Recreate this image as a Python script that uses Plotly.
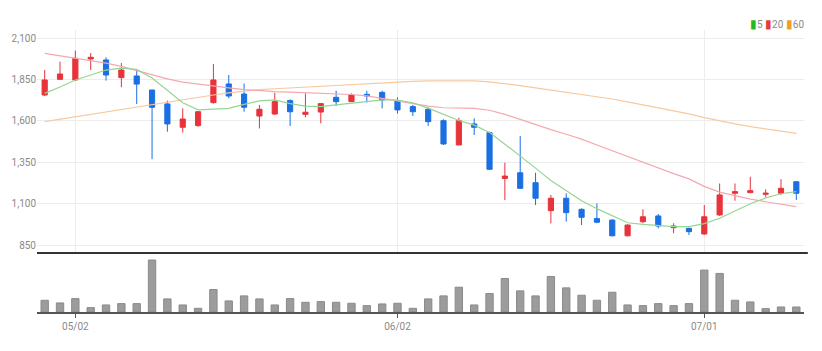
import plotly.graph_objects as go

dates = ["2022-04-28","2022-04-29","2022-05-02","2022-05-03","2022-05-04","2022-05-06","2022-05-09","2022-05-10",
         "2022-05-11","2022-05-12","2022-05-13","2022-05-16","2022-05-17","2022-05-18","2022-05-19","2022-05-20",
         "2022-05-23","2022-05-24","2022-05-25","2022-05-26","2022-05-27","2022-05-30","2022-05-31","2022-06-02",
         "2022-06-03","2022-06-07","2022-06-08","2022-06-09","2022-06-10","2022-06-13","2022-06-14","2022-06-15",
         "2022-06-16","2022-06-17","2022-06-20","2022-06-21","2022-06-22","2022-06-23","2022-06-24","2022-06-27",
         "2022-06-28","2022-06-29","2022-06-30","2022-07-01","2022-07-04","2022-07-05","2022-07-06","2022-07-07",
         "2022-07-08","2022-07-11"]

opens  = [1757,1852,1848,1975,1969,1862,1872,1787,1703,1562,1572,1711,1824,1763,1630,1642,1723,1640,1654,1743,
          1717,1761,1773,1723,1687,1671,1602,1455,1582,1529,1253,1287,1227,1058,1133,1066,1010,1001,906,991,
          1026,955,951,917,1032,1163,1167,1157,1163,1233]
highs  = [1908,1959,2025,2011,1985,1950,1912,1790,1723,1676,1660,1945,1878,1827,1697,1771,1731,1767,1708,1783,
          1767,1783,1783,1743,1697,1683,1610,1620,1616,1535,1348,1509,1287,1153,1163,1072,1102,1005,975,1066,
          1038,982,955,1092,1222,1222,1263,1187,1248,1235]
lows   = [1750,1850,1845,1908,1844,1804,1703,1369,1535,1530,1565,1705,1737,1656,1555,1636,1570,1622,1586,1691,
          1715,1711,1676,1645,1630,1570,1455,1455,1515,1304,1122,1190,1092,981,991,971,982,903,903,982,
          951,921,911,911,1026,1118,1163,1142,1153,1122]
closes = [1848,1884,1979,1985,1878,1908,1823,1683,1582,1612,1656,1848,1751,1683,1671,1717,1656,1653,1705,1717,
          1757,1751,1727,1667,1656,1596,1461,1602,1562,1308,1267,1193,1133,1133,1046,1018,988,906,971,1021,
          965,965,931,1021,1153,1173,1179,1163,1193,1163]

ma5  = [1767,1805,1848,1880,1908,1920,1912,1860,1785,1710,1667,1670,1676,1700,1722,1728,1705,1690,1687,1697,
        1708,1718,1728,1727,1710,1678,1640,1603,1575,1530,1460,1390,1315,1240,1180,1118,1070,1025,985,975,
        968,962,962,980,1012,1058,1100,1135,1160,1173]
ma20 = [2009,1995,1980,1965,1950,1930,1905,1880,1855,1835,1822,1812,1800,1790,1783,1778,1775,1772,1768,1765,
        1760,1752,1738,1722,1705,1690,1680,1676,1676,1665,1640,1610,1578,1548,1520,1490,1455,1420,1385,1350,
        1315,1282,1250,1205,1170,1148,1128,1112,1095,1082]
ma60 = [1596,1611,1626,1640,1654,1668,1683,1698,1714,1730,1745,1757,1770,1782,1790,1795,1800,1805,1810,1815,
        1822,1828,1833,1837,1840,1842,1843,1843,1842,1836,1826,1814,1800,1787,1774,1762,1748,1733,1716,1698,
        1680,1662,1643,1620,1600,1583,1566,1552,1538,1525]

volumes = [35,27,40,13,21,25,25,155,39,21,11,67,33,48,39,21,40,29,31,29,26,19,24,26,11,39,48,74,21,55,
           100,63,48,106,72,50,35,59,21,19,25,19,25,125,115,35,30,10,15,15]
volumes = [v * 1000 for v in volumes]

tick_dates = ["2022-05-02", "2022-06-02", "2022-07-01"]
tick_text = ["05/02", "06/02", "07/01"]
price_ticks = [850, 1100, 1350, 1600, 1850, 2100]
legend_labels = ["5", "20", "60"]
legend_colors = ["#22b822", "#e83a3a", "#f39c2c"]

UP = "#e8333a"
DOWN = "#1a6fe3"
C5, C20, C60 = "#94d694", "#f5a8b0", "#f8c99e"

fig = go.Figure()

fig.add_trace(go.Scatter(x=dates, y=ma60, mode="lines", line=dict(color=C60, width=1.2),
                         xaxis="x", yaxis="y", showlegend=False, hoverinfo="skip"))
fig.add_trace(go.Scatter(x=dates, y=ma20, mode="lines", line=dict(color=C20, width=1.2),
                         xaxis="x", yaxis="y", showlegend=False, hoverinfo="skip"))
fig.add_trace(go.Scatter(x=dates, y=ma5, mode="lines", line=dict(color=C5, width=1.2),
                         xaxis="x", yaxis="y", showlegend=False, hoverinfo="skip"))

fig.add_trace(go.Candlestick(
    x=dates, open=opens, high=highs, low=lows, close=closes,
    increasing=dict(line=dict(color=UP, width=1), fillcolor=UP),
    decreasing=dict(line=dict(color=DOWN, width=1), fillcolor=DOWN),
    xaxis="x", yaxis="y", showlegend=False, whiskerwidth=0))

fig.add_trace(go.Bar(x=dates, y=volumes, marker=dict(color="#9c9c9c", line=dict(color="#8a8a8a", width=1)),
                     xaxis="x2", yaxis="y2", showlegend=False))

price_bottom = 59 / 282
vol_top = 56 / 282

legend_text = "".join(
    f"<span style='color:{c};font-size:12px'>▮</span>{t}" + ("&nbsp;" if i < len(legend_labels) - 1 else "")
    for i, (t, c) in enumerate(zip(legend_labels, legend_colors)))

fig.update_layout(
    width=822, height=351,
    margin=dict(l=37, r=18, t=30, b=39),
    plot_bgcolor="white", paper_bgcolor="white",
    font=dict(family="Roboto, sans-serif", size=10, color="#8a8a8a"),
    boxgap=0.52,
    bargap=0.52,
    showlegend=False,
    xaxis=dict(type="category", domain=[0, 1], anchor="y", range=[-0.5, 49.5],
               tickvals=tick_dates, ticktext=tick_text, showticklabels=False,
               showgrid=True, gridcolor="#ececec", gridwidth=1, zeroline=False,
               rangeslider=dict(visible=False), ticks=""),
    yaxis=dict(domain=[price_bottom, 1], range=[802, 2150], tickvals=price_ticks,
               tickformat=",d", showgrid=True, gridcolor="#ececec", zeroline=False,
               ticks="", tickfont=dict(size=10, color="#8a8a8a")),
    xaxis2=dict(type="category", domain=[0, 1], anchor="y2", matches="x", range=[-0.5, 49.5],
                tickvals=tick_dates, ticktext=tick_text, showgrid=False,
                showline=True, linecolor="#555555", linewidth=1.5,
                ticks="outside", ticklen=4, tickcolor="#555555",
                tickfont=dict(size=10, color="#8a8a8a")),
    yaxis2=dict(domain=[0, vol_top], range=[0, 167000], showticklabels=False,
                showgrid=False, zeroline=False),
    shapes=[dict(type="line", xref="paper", yref="paper", x0=0, x1=1.005,
                 y0=price_bottom, y1=price_bottom, line=dict(color="#333333", width=2))],
    annotations=[dict(xref="paper", yref="paper", x=1.003, y=1.021, xanchor="right", yanchor="middle",
                      showarrow=False, font=dict(size=10, color="#8a8a8a"),
                      text=legend_text)],
)

fig.write_html("out.html")
